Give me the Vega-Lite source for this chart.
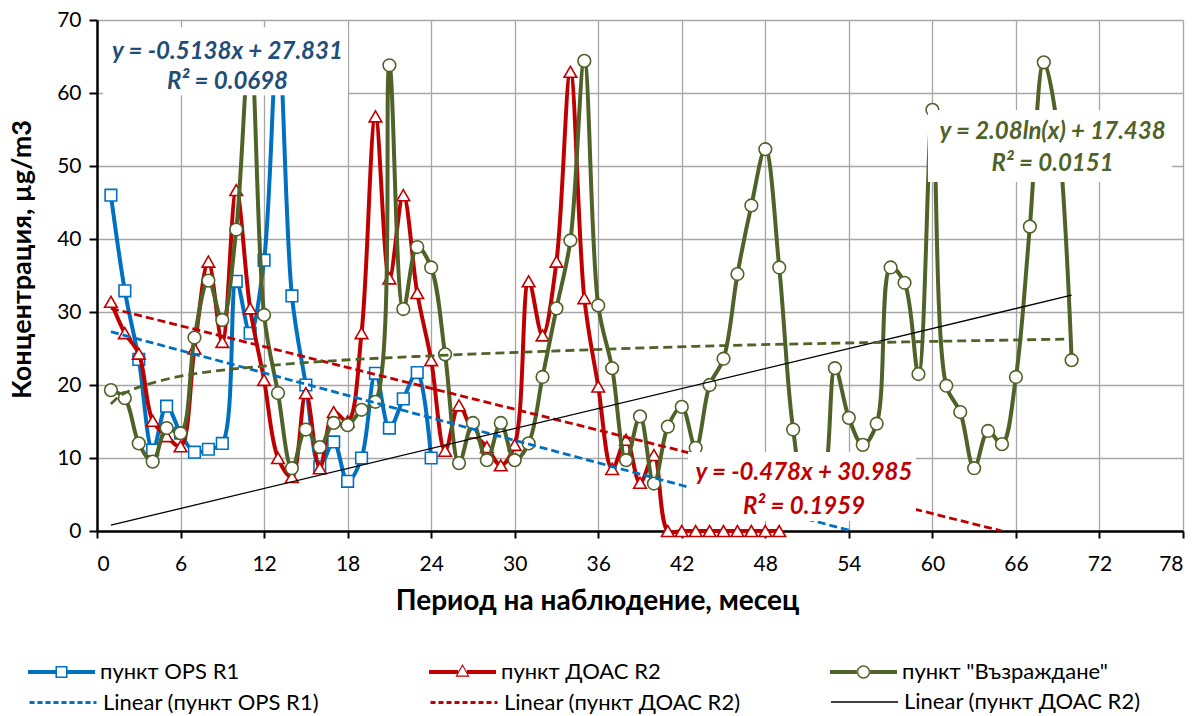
{
  "$schema": "https://vega.github.io/schema/vega-lite/v6.json",
  "width": 1086,
  "height": 511,
  "autosize": {"type": "none"},
  "padding": {"left": 97, "top": 20, "right": 14, "bottom": 185},
  "background": "white",
  "config": {
    "font": "Lato",
    "view": {"stroke": null},
    "axis": {
      "grid": true,
      "gridColor": "#A6A6A6",
      "gridWidth": 1.3,
      "domainColor": "black",
      "domainWidth": 2.5,
      "tickColor": "black",
      "tickWidth": 2,
      "labelFont": "Lato",
      "labelFontSize": 21,
      "labelColor": "black",
      "titleFont": "Lato",
      "titleFontSize": 27,
      "titleFontWeight": "bold",
      "titleColor": "black"
    },
    "legend": {"labelFont": "Lato", "labelFontSize": 22, "labelColor": "black", "padding": 0, "offset": 0, "labelLimit": 600}
  },
  "datasets": {
    "ops": [
      {"x":1,"y":46.0},{"x":2,"y":32.9},{"x":3,"y":23.5},{"x":4,"y":11.1},{"x":5,"y":17.1},{"x":6,"y":13.4},
      {"x":7,"y":10.8},{"x":8,"y":11.2},{"x":9,"y":12.0},{"x":10,"y":34.2},{"x":11,"y":27.1},{"x":12,"y":37.1},
      {"x":13,"y":68.0},{"x":14,"y":32.2},{"x":15,"y":20.0},{"x":16,"y":8.8},{"x":17,"y":12.2},{"x":18,"y":6.8},
      {"x":19,"y":10.0},{"x":20,"y":21.6},{"x":21,"y":14.1},{"x":22,"y":18.1},{"x":23,"y":21.7},{"x":24,"y":10.0}
    ],
    "doac": [
      {"x":1,"y":31.4},{"x":2,"y":27.1},{"x":3,"y":24.3},{"x":4,"y":15.1},{"x":5,"y":13.0},{"x":6,"y":11.6},
      {"x":7,"y":25.0},{"x":8,"y":36.9},{"x":9,"y":25.9},{"x":10,"y":46.7},{"x":11,"y":30.5},{"x":12,"y":20.7},
      {"x":13,"y":10.0},{"x":14,"y":7.4},{"x":15,"y":18.9},{"x":16,"y":8.6},{"x":17,"y":16.3},{"x":18,"y":15.0},
      {"x":19,"y":27.1},{"x":20,"y":56.8},{"x":21,"y":34.6},{"x":22,"y":46.0},{"x":23,"y":32.6},{"x":24,"y":23.4},
      {"x":25,"y":11.0},{"x":26,"y":17.2},{"x":27,"y":13.5},{"x":28,"y":11.5},{"x":29,"y":9.0},{"x":30,"y":11.8},
      {"x":31,"y":34.2},{"x":32,"y":26.8},{"x":33,"y":36.9},{"x":34,"y":62.9},{"x":35,"y":31.9},{"x":36,"y":19.8},
      {"x":37,"y":8.5},{"x":38,"y":12.5},{"x":39,"y":6.6},{"x":40,"y":10.4},{"x":41,"y":0},{"x":42,"y":0},
      {"x":43,"y":0},{"x":44,"y":0},{"x":45,"y":0},{"x":46,"y":0},{"x":47,"y":0},{"x":48,"y":0},{"x":49,"y":0}
    ],
    "vaz": [
      {"x":1,"y":19.3},{"x":2,"y":18.2},{"x":3,"y":12.0},{"x":4,"y":9.5},{"x":5,"y":14.1},{"x":6,"y":13.4},
      {"x":7,"y":26.5},{"x":8,"y":34.3},{"x":9,"y":28.9},{"x":10,"y":41.3},{"x":11,"y":67.0},{"x":12,"y":29.6},
      {"x":13,"y":18.9},{"x":14,"y":8.6},{"x":15,"y":13.9},{"x":16,"y":11.5},{"x":17,"y":14.8},{"x":18,"y":14.5},
      {"x":19,"y":16.6},{"x":20,"y":17.7},{"x":21,"y":63.8},{"x":22,"y":30.4},{"x":23,"y":38.9},{"x":24,"y":36.1},
      {"x":25,"y":24.2},{"x":26,"y":9.3},{"x":27,"y":14.8},{"x":28,"y":9.7},{"x":29,"y":14.8},{"x":30,"y":9.7},
      {"x":31,"y":12.0},{"x":32,"y":21.1},{"x":33,"y":30.5},{"x":34,"y":39.8},{"x":35,"y":64.4},{"x":36,"y":30.9},
      {"x":37,"y":22.3},{"x":38,"y":9.7},{"x":39,"y":15.7},{"x":40,"y":6.5},{"x":41,"y":14.3},{"x":42,"y":17.0},
      {"x":43,"y":11.4},{"x":44,"y":20.0},{"x":45,"y":23.6},{"x":46,"y":35.2},{"x":47,"y":44.6},{"x":48,"y":52.3},
      {"x":49,"y":36.1},{"x":50,"y":13.9},{"x":51,"y":4.5},{"x":52,"y":5.5},{"x":53,"y":22.3},{"x":54,"y":15.5},
      {"x":55,"y":11.8},{"x":56,"y":14.7},{"x":57,"y":36.1},{"x":58,"y":34.0},{"x":59,"y":21.5},{"x":60,"y":57.7},
      {"x":61,"y":19.9},{"x":62,"y":16.3},{"x":63,"y":8.6},{"x":64,"y":13.7},{"x":65,"y":11.9},{"x":66,"y":21.1},
      {"x":67,"y":41.7},{"x":68,"y":64.2},{"x":69,"y":55.0},{"x":70,"y":23.4}
    ],
    "trendOps": [{"x":1,"y":27.3},{"x":54,"y":0.1}],
    "trendDoac": [{"x":1,"y":30.5},{"x":65,"y":0}],
    "trendBlack": [{"x":1,"y":0.8},{"x":70,"y":32.3}],
    "trendLog": [
      {"x":1,"y":17.4},{"x":1.5,"y":18.3},{"x":2,"y":18.9},{"x":3,"y":19.7},{"x":4,"y":20.3},{"x":6,"y":21.2},
      {"x":8,"y":21.8},{"x":12,"y":22.6},{"x":16,"y":23.2},{"x":24,"y":24.0},{"x":32,"y":24.6},{"x":45,"y":25.4},
      {"x":58,"y":25.9},{"x":70,"y":26.3}
    ],
    "boxes": [
      {"x":0.43,"xe":18.03,"y":69.0,"ye":59.7},
      {"x":42.45,"xe":58.82,"y":10.82,"ye":1.37},
      {"x":59.68,"xe":77.21,"y":57.67,"ye":47.81}
    ],
    "eqBlue": [{"x":9.37,"y":65.66,"t":"y = -0.5138x + 27.831"},{"x":9.37,"y":61.55,"t":"R² = 0.0698"}],
    "eqRed": [{"x":50.78,"y":7.9,"t":"y = -0.478x + 30.985"},{"x":50.78,"y":3.25,"t":"R² = 0.1959"}],
    "eqGreen": [{"x":68.63,"y":54.7,"t":"y = 2.08ln(x) + 17.438"},{"x":68.63,"y":50.27,"t":"R² = 0.0151"}]
  },
  "encoding": {
    "x": {
      "field": "x", "type": "quantitative",
      "scale": {"domain": [0, 78], "nice": false, "zero": false},
      "axis": {
        "values": [0,6,12,18,24,30,36,42,48,54,60,66,72,78],
        "title": "Период на наблюдение, месец",
        "titleFontSize": 28,
        "tickSize": 7, "labelPadding": 15,
        "titleX": 500, "titleY": 70, "titleBaseline": "middle", "titleAlign": "center", "titleAnchor": null
      }
    },
    "y": {
      "field": "y", "type": "quantitative",
      "scale": {"domain": [0, 70], "nice": false, "zero": false},
      "axis": {
        "values": [0,10,20,30,40,50,60,70],
        "title": "Концентрация, µg/m3",
        "tickSize": 8, "labelPadding": 8,
        "titleX": -75, "titleY": 239, "titleAngle": -90, "titleAlign": "center", "titleBaseline": "middle", "titleAnchor": null
      }
    }
  },
  "resolve": {"scale": {"color": "independent"}},
  "layer": [
    {
      "data": {"name": "ops"},
      "mark": {"type": "line", "interpolate": "catmull-rom", "strokeWidth": 4, "clip": true},
      "encoding": {
        "color": {"datum": "пункт OPS R1", "scale": {"range": ["#0070C0"]},
          "legend": {"title": null, "orient": "none", "legendX": -69, "legendY": 618.5,
            "symbolType": "M-1,-0.06H-0.18V0.06H-1ZM0.18,-0.06H1V0.06H0.18ZM-0.18,-0.18H0.18V0.18H-0.18ZM-0.134,-0.134V0.134H0.134V-0.134Z",
            "symbolSize": 4489, "labelOffset": 5,
            "encode": {"symbols": {"update": {"fill": {"value": "#0070C0"}, "stroke": {"value": "transparent"}, "strokeWidth": {"value": 0}}}}}}
      }
    },
    {
      "data": {"name": "ops"},
      "mark": {"type": "point", "shape": "square", "filled": true, "fill": "white", "stroke": "#0070C0", "strokeWidth": 1.6, "size": 135, "opacity": 1}
    },
    {
      "data": {"name": "doac"},
      "mark": {"type": "line", "interpolate": "catmull-rom", "strokeWidth": 4, "clip": false},
      "encoding": {
        "color": {"datum": "пункт ДОАС R2", "scale": {"range": ["#C00000"]},
          "legend": {"title": null, "orient": "none", "legendX": 332, "legendY": 618.5,
            "symbolType": "M-1,-0.06H-0.13V0.06H-1ZM0.13,-0.06H1V0.06H0.13ZM0,-0.24L0.21,0.14L-0.21,0.14ZM0,-0.17L-0.155,0.105L0.155,0.105Z",
            "symbolSize": 4489, "labelOffset": 5,
            "encode": {"symbols": {"update": {"fill": {"value": "#C00000"}, "stroke": {"value": "transparent"}, "strokeWidth": {"value": 0}}}}}}
      }
    },
    {
      "data": {"name": "doac"},
      "mark": {"type": "point", "shape": "triangle-up", "filled": true, "fill": "white", "stroke": "#C00000", "strokeWidth": 1.6, "size": 160, "opacity": 1}
    },
    {
      "data": {"name": "vaz"},
      "mark": {"type": "line", "interpolate": "catmull-rom", "strokeWidth": 4, "clip": true},
      "encoding": {
        "color": {"datum": "пункт \"Възраждане\"", "scale": {"range": ["#4F6228"]},
          "legend": {"title": null, "orient": "none", "legendX": 733, "legendY": 618.5,
            "symbolType": "M-1,-0.06H-0.19V0.06H-1ZM0.19,-0.06H1V0.06H0.19ZM-0.2,0A0.2,0.2,0,1,0,0.2,0A0.2,0.2,0,1,0,-0.2,0ZM-0.155,0A0.155,0.155,0,1,1,0.155,0A0.155,0.155,0,1,1,-0.155,0Z",
            "symbolSize": 4489, "labelOffset": 5,
            "encode": {"symbols": {"update": {"fill": {"value": "#4F6228"}, "stroke": {"value": "transparent"}, "strokeWidth": {"value": 0}}}}}}
      }
    },
    {
      "data": {"name": "vaz"},
      "mark": {"type": "point", "shape": "circle", "filled": true, "fill": "white", "stroke": "#4F6228", "strokeWidth": 1.6, "size": 160, "opacity": 1}
    },
    {
      "data": {"name": "trendOps"},
      "mark": {"type": "line", "strokeWidth": 2.8, "strokeDash": [8, 4], "clip": true},
      "encoding": {
        "color": {"datum": "Linear (пункт OPS R1)", "scale": {"range": ["#0070C0"]},
          "legend": {"title": null, "orient": "none", "legendX": -69, "legendY": 647.5,
            "symbolType": "M-1,0H1", "symbolSize": 4489, "symbolStrokeWidth": 3, "symbolDash": [5, 3], "labelOffset": 5}}
      }
    },
    {
      "data": {"name": "trendDoac"},
      "mark": {"type": "line", "strokeWidth": 2.8, "strokeDash": [8, 4], "clip": true},
      "encoding": {
        "color": {"datum": "Linear (пункт ДОАС R2)", "scale": {"range": ["#C00000"]},
          "legend": {"title": null, "orient": "none", "legendX": 332, "legendY": 647.5,
            "symbolType": "M-1,0H1", "symbolSize": 4489, "symbolStrokeWidth": 3, "symbolDash": [5, 3], "labelOffset": 5}}
      }
    },
    {
      "data": {"name": "trendBlack"},
      "mark": {"type": "line", "strokeWidth": 1.3, "clip": true},
      "encoding": {
        "color": {"datum": "Linear (пункт ДОАС R2)", "scale": {"range": ["#000000"]},
          "legend": {"title": null, "orient": "none", "legendX": 733, "legendY": 647.5,
            "symbolType": "M-1,0H1", "symbolSize": 4489, "symbolStrokeWidth": 1.5, "labelOffset": 5}}
      }
    },
    {
      "data": {"name": "trendLog"},
      "mark": {"type": "line", "interpolate": "monotone", "strokeWidth": 2.8, "strokeDash": [9, 5], "color": "#4F6228", "clip": true},
      "encoding": {}
    },
    {
      "data": {"name": "boxes"},
      "mark": {"type": "rect", "fill": "white"},
      "encoding": {
        "x2": {"field": "xe"},
        "y2": {"field": "ye"}
      }
    },
    {
      "data": {"name": "eqBlue"},
      "mark": {"type": "text", "font": "Lato", "fontSize": 24, "fontWeight": "bold", "fontStyle": "italic", "color": "#1F4E79", "baseline": "middle", "align": "center"},
      "encoding": {"text": {"field": "t"}}
    },
    {
      "data": {"name": "eqRed"},
      "mark": {"type": "text", "font": "Lato", "fontSize": 24, "fontWeight": "bold", "fontStyle": "italic", "color": "#C00000", "baseline": "middle", "align": "center"},
      "encoding": {"text": {"field": "t"}}
    },
    {
      "data": {"name": "eqGreen"},
      "mark": {"type": "text", "font": "Lato", "fontSize": 24, "fontWeight": "bold", "fontStyle": "italic", "color": "#4F6228", "baseline": "middle", "align": "center"},
      "encoding": {"text": {"field": "t"}}
    }
  ]
}
